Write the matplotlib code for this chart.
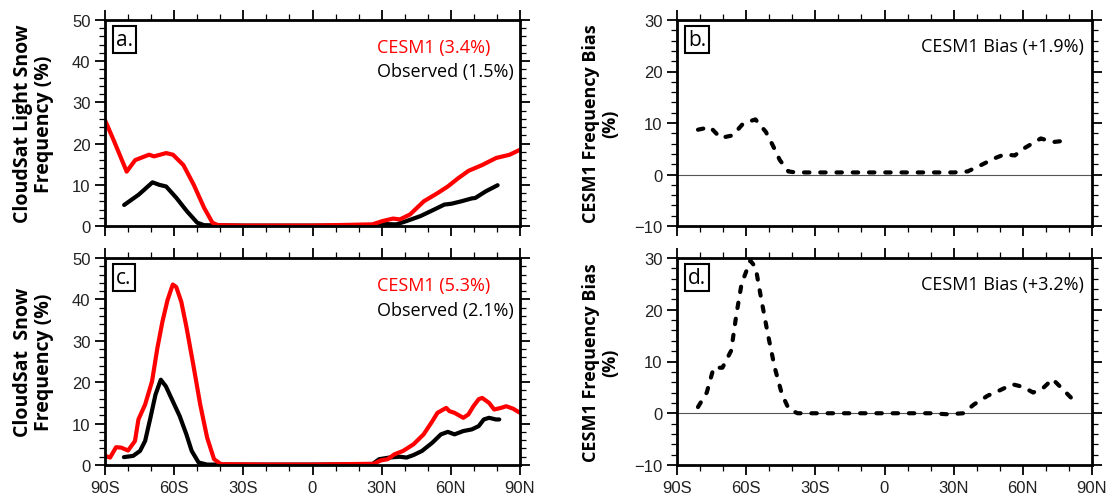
import numpy as np
import matplotlib
matplotlib.use("Agg")
import matplotlib.pyplot as plt
from matplotlib.ticker import MultipleLocator

# panel a: light snow frequency (%)
lat_a_cesm = [-90, -86, -80.6, -76.9, -70.9, -68.7, -63.5, -60.5, -56, -51.5, -47, -43.4, -41,
              -30, 0, 26, 30.4, 34.9, 37.9, 42.3, 48.3, 54.3, 58.7, 63.2, 67.7, 73.6, 79.6, 85.5, 90]
val_a_cesm = [25.7, 20.5, 13.2, 16, 17.3, 16.9, 17.7, 17.3, 14.8, 10, 4.4, 0.8, 0.2,
              0.1, 0.1, 0.4, 1.2, 1.8, 1.6, 2.8, 6, 8, 9.6, 11.6, 13.4, 14.8, 16.5, 17.3, 18.5]
lat_a_obs = [-81.7, -75.4, -69.4, -66.5, -63.5, -59, -54.5, -50, -47,
             -30, 0, 25, 29, 36.4, 40.8, 46.8, 52.8, 57.2, 60.2, 64.6, 69.1, 70.6, 75.1, 80.3]
val_a_obs = [5.1, 7.6, 10.6, 10, 9.6, 6.8, 3.6, 0.8, 0.2,
             0.1, 0.1, 0.1, 0.5, 0.4, 1.2, 2.4, 4, 5.2, 5.4, 6, 6.7, 6.8, 8.4, 9.9]

# panel c: snow frequency (%)
lat_c_cesm = [-90, -87.8, -85.2, -83, -80, -77, -75.5, -72.6, -69.6, -67.3, -65.1, -62.9, -60.6,
              -59.1, -56.9, -54.7, -51.7, -48.7, -45.7, -42.7, -39.7, -20, 0, 26.6, 29.6, 32.6,
              35.6, 39.3, 43.8, 48.2, 52, 54.2, 58, 59.4, 61.6, 65.4, 67.6, 69.8, 72.1, 73.6,
              76.6, 78.8, 81.8, 84, 87, 90]
val_c_cesm = [2.2, 1.8, 4.3, 4.2, 3.5, 5.8, 11, 14.6, 20.2, 28.2, 34.6, 39.8, 43.6,
              43, 39.4, 33.4, 24.2, 14.6, 6.6, 1.4, 0.2, 0.1, 0.1, 0.3, 1.1, 1.4,
              2.6, 3.4, 5, 7.4, 10.6, 12.6, 13.8, 13, 12.6, 11.4, 12.2, 14.2, 15.9, 16.2,
              15, 13.4, 13.8, 14.2, 13.6, 12.6]
lat_c_obs = [-81.8, -77.8, -74.8, -72.6, -70.3, -68.1, -65.8, -63.6, -60.6, -57.6, -54.7, -52.4,
             -49.4, -45.7, -20, 0, 26, 28.9, 33.3, 37.8, 40.8, 43.8, 47.5, 52, 55.7, 58.7, 61.6,
             65.4, 69.1, 72.1, 74.3, 76.6, 79.5, 81]
val_c_obs = [1.9, 2.2, 3.4, 5.8, 11.4, 17, 20.6, 19, 15.4, 11.8, 7.4, 3.4,
             0.6, 0.1, 0.1, 0.1, 0.2, 1.4, 1.8, 2, 1.8, 2.4, 3.4, 5.4, 7.4, 8, 7.4,
             8.2, 8.6, 9.4, 11, 11.4, 11, 11]

# panel b / d: CESM1 bias (%)
lat_b = [-80.9, -75.6, -71.1, -65.8, -61.3, -56, -51.5, -48.5, -45.4, -41.7, -38.6, -20, 0, 20,
         30.1, 36.1, 42.2, 47.5, 52, 56.5, 61, 67.8, 73.1, 79.2]
val_b = [8.7, 9.2, 7.1, 7.6, 9.9, 10.7, 8.3, 5.7, 2.8, 0.6, 0.4, 0.4, 0.4, 0.4,
         0.4, 0.6, 1.9, 3.1, 3.9, 3.7, 5.2, 7, 6.3, 6.6]
lat_d = [-80.9, -77.1, -74.1, -70.3, -66.5, -64.2, -62, -58.2, -55.9, -53.6, -50.6, -47.6, -44.5,
         -41.5, -37.7, -20, 0, 20, 27.4, 34.2, 38.8, 44.8, 49.4, 55.5, 60, 64.5, 69.1, 72.9,
         77.4, 82.7]
val_d = [1.2, 4, 8.8, 8.8, 12.1, 19.2, 25, 29.5, 28.2, 22.4, 15.3, 8.8, 3.7,
         0.8, 0, 0, 0, 0, -0.2, 0, 1.7, 3.4, 4.3, 5.6, 5.1, 4, 5, 6.6,
         4.6, 2.2]

xticks = [-90, -60, -30, 0, 30, 60, 90]
xlabels = ["90S", "60S", "30S", "0", "30N", "60N", "90N"]

tickfont = "Liberation Sans"
textfont = "Open Sans"

fig = plt.figure(figsize=(11.09, 5.02), dpi=100)
W, H = 1109, 502


def make_ax(x0, y_top, y_bot, x1):
    return fig.add_axes([x0 / W, 1 - y_bot / H, (x1 - x0) / W, (y_bot - y_top) / H])


ax_a = make_ax(105, 21, 227, 520)
ax_c = make_ax(105, 259, 466, 520)
ax_b = make_ax(677, 21, 227, 1092)
ax_d = make_ax(677, 259, 466, 1092)


def style(ax, ylim, ymajor, show_x):
    ax.set_xlim(-90, 90)
    ax.set_ylim(*ylim)
    ax.set_xticks(xticks)
    ax.xaxis.set_minor_locator(MultipleLocator(10))
    ax.yaxis.set_major_locator(MultipleLocator(ymajor))
    ax.yaxis.set_minor_locator(MultipleLocator(2))
    ax.tick_params(which="both", direction="out", top=True, right=True,
                   labeltop=False, labelright=False)
    ax.tick_params(which="major", length=7, width=1.3)
    ax.tick_params(which="minor", length=4, width=0.9)
    if show_x:
        ax.set_xticklabels(xlabels)
    else:
        ax.set_xticklabels([])
    for lab in ax.get_xticklabels() + ax.get_yticklabels():
        lab.set_fontfamily(tickfont)
        lab.set_fontsize(12)
        lab.set_color("#222222")
    for sp in ax.spines.values():
        sp.set_linewidth(2)


def panel_label(ax, s):
    ax.text(0.027, 0.955, s, transform=ax.transAxes, fontsize=15, family=textfont,
            va="top", ha="left",
            bbox=dict(boxstyle="square,pad=0.15", fc="white", ec="black", lw=1.5))


# left panels
for ax, lc, vc, lo, vo, label, ctxt, otxt, ylab, show_x in [
        (ax_a, lat_a_cesm, val_a_cesm, lat_a_obs, val_a_obs, "a.", "CESM1 (3.4%)",
         "Observed (1.5%)", "CloudSat Light Snow\nFrequency (%)", False),
        (ax_c, lat_c_cesm, val_c_cesm, lat_c_obs, val_c_obs, "c.", "CESM1 (5.3%)",
         "Observed (2.1%)", "CloudSat  Snow\nFrequency (%)", True)]:
    ax.plot(lo, vo, color="black", lw=3, solid_capstyle="round", solid_joinstyle="round")
    ax.plot(lc, vc, color="#ff0000", lw=3, solid_capstyle="round", solid_joinstyle="round")
    style(ax, (0, 50), 10, show_x)
    panel_label(ax, label)
    ax.text(0.655, 0.87, ctxt, transform=ax.transAxes, color="#ff0000", fontsize=13,
            family=textfont, va="center", ha="left")
    ax.text(0.655, 0.75, otxt, transform=ax.transAxes, color="black", fontsize=13,
            family=textfont, va="center", ha="left")
    ax.set_ylabel(ylab, fontsize=14, fontweight="bold", family=textfont, labelpad=13,
                  linespacing=1.05)

# right panels
for ax, lt, vl, label, txt, show_x in [
        (ax_b, lat_b, val_b, "b.", "CESM1 Bias (+1.9%)", False),
        (ax_d, lat_d, val_d, "d.", "CESM1 Bias (+3.2%)", True)]:
    ax.axhline(0, color="#555555", lw=0.8, zorder=1)
    ax.plot(lt, vl, color="black", lw=3, linestyle=(0, (1.3, 2.6)),
            dash_capstyle="round", zorder=2)
    style(ax, (-10, 30), 10, show_x)
    panel_label(ax, label)
    ax.text(0.98, 0.875, txt, transform=ax.transAxes, color="black", fontsize=13,
            family=textfont, va="center", ha="right")
    ax.set_ylabel("CESM1 Frequency Bias\n(%)", fontsize=13, fontweight="bold",
                  family=textfont, labelpad=11, linespacing=1.05)

fig.savefig("out.png", dpi=100)
